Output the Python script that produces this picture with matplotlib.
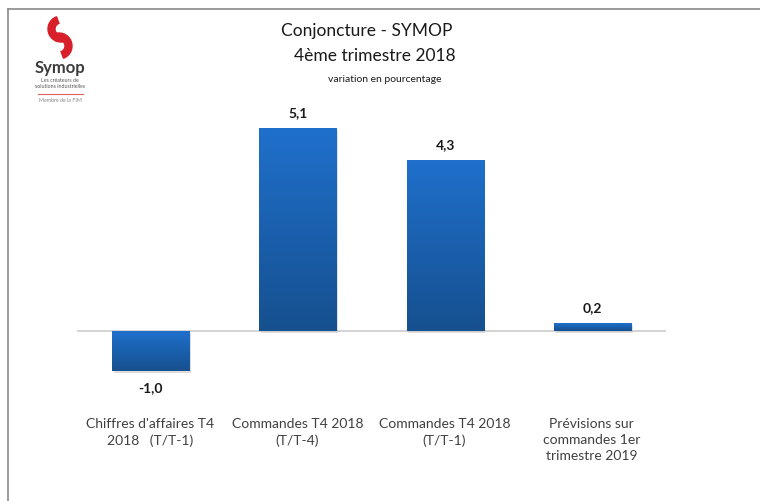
import numpy as np
import matplotlib.pyplot as plt
from matplotlib.patches import Wedge, Rectangle
from matplotlib.colors import LinearSegmentedColormap

plt.rcParams['font.family'] = ['Lato', 'DejaVu Sans']

categories = ["Chiffres d'affaires T4\n2018   (T/T-1)", "Commandes T4 2018\n(T/T-4)",
              "Commandes T4 2018\n(T/T-1)", "Prévisions sur\ncommandes 1er\ntrimestre 2019"]
values = [-1.0, 5.1, 4.3, 0.2]
value_labels = ["-1,0", "5,1", "4,3", "0,2"]

W, H = 760, 501
fig = plt.figure(figsize=(W / 100, H / 100), dpi=100)

def fx(px):
    return px / W

def fy(py):
    return 1 - py / H

# outer frame (top and left edges only)
fig.add_artist(plt.Line2D([fx(8), fx(760)], [fy(9), fy(9)], color='#8a8a8a', lw=1.2))
fig.add_artist(plt.Line2D([fx(8), fx(8)], [fy(9), fy(501)], color='#8a8a8a', lw=1.2))

# main axes
top_px, bot_px, base_px, ppu = 100, 400, 331, 39.8
ax = fig.add_axes([fx(77), fy(bot_px), fx(666) - fx(77), (bot_px - top_px) / H])
ax.axis('off')
ax.axhline(0, color='#d0d0d0', lw=1.3, zorder=1)

cmap = LinearSegmentedColormap.from_list('bar', ['#1f70cc', '#16508f'])
grad = np.linspace(0, 1, 256).reshape(-1, 1)
width = 0.524
x = np.arange(len(values))
for xi, v, lab in zip(x, values, value_labels):
    lo, hi = min(0, v), max(0, v)
    # soft shadow
    ax.add_patch(Rectangle((xi - width / 2 + 0.012, lo - 0.05), width, hi - lo,
                           color='#c8c8c8', alpha=0.6, zorder=1.5, lw=0))
    bars = ax.bar(xi, v, width=width, color='none', zorder=2)
    img = ax.imshow(grad, cmap=cmap, aspect='auto', zorder=2,
                    extent=[xi - width / 2, xi + width / 2, lo, hi])
    img.set_clip_path(bars[0])
    off = 0.38 if v >= 0 else -0.43
    ax.text(xi, v + off, lab, ha='center', va='center', fontsize=10,
            fontweight='bold', color='#1a1a1a')
ax.set_xlim(-0.5, len(values) - 0.5)
ax.set_ylim(-(bot_px - base_px) / ppu, (base_px - top_px) / ppu)

# category labels
for xi, c in zip(x, categories):
    fig.text(fx(77 + 147 * (xi + 0.5)), fy(418), c, ha='center', va='top',
             fontsize=10, color='#404040', linespacing=1.4)

# titles
fig.text(fx(367), fy(31), "Conjoncture - SYMOP", ha='center', va='center',
         fontsize=12.5, color='#1a1a1a')
fig.text(fx(375), fy(56), "4ème trimestre 2018", ha='center', va='center',
         fontsize=12.5, color='#1a1a1a')
fig.text(fx(385), fy(79), "variation en pourcentage", ha='center', va='center',
         fontsize=7.5, color='#1a1a1a')

# logo
lax = fig.add_axes([fx(20), fy(110), fx(80), 100 / H])
lax.set_xlim(0, 80)
lax.set_ylim(110, 10)
lax.set_aspect('equal')
lax.axis('off')
lax.add_patch(Wedge((41, 29), 13, 60, 250, width=7, color='#d8202a'))
lax.add_patch(Wedge((39, 46), 13, 240, 70, width=7, color='#d8202a'))
lax.text(40, 68, "Symop", ha='center', va='center', fontsize=12, color='#3c3c3c',
         fontweight='bold')
lax.text(40, 80, "Les créateurs de", ha='center', va='center', fontsize=3.8, color='#555555')
lax.text(40, 86, "solutions industrielles", ha='center', va='center', fontsize=3.8, color='#555555')
lax.plot([18, 63], [94, 94], color='#e06060', lw=0.8)
lax.text(40, 100, "Membre de la FIM", ha='center', va='center', fontsize=3.8, color='#888888')

fig.savefig('out.png', dpi=100)
